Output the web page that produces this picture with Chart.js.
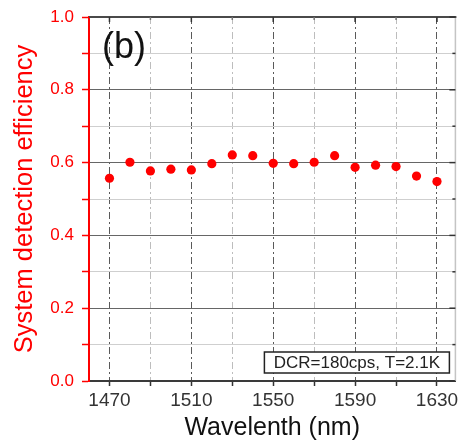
<!DOCTYPE html>
<html>
<head>
<meta charset="utf-8">
<script src="https://cdn.jsdelivr.net/npm/chart.js@4.4.1/dist/chart.umd.min.js"></script>
<style>
  html, body { margin: 0; padding: 0; background: #fff; }
  #wrap { width: 460px; height: 444px; }
</style>
</head>
<body>
<div id="wrap"><canvas id="sde" width="460" height="444"></canvas></div>
<script>
// wavelength (nm) and measured system detection efficiency
var wavelengths = [1470, 1480, 1490, 1500, 1510, 1520, 1530, 1540, 1550, 1560, 1570, 1580, 1590, 1600, 1610, 1620, 1630];
var efficiency  = [0.557, 0.601, 0.577, 0.582, 0.580, 0.597, 0.621, 0.619, 0.598, 0.597, 0.601, 0.619, 0.587, 0.593, 0.589, 0.563, 0.548];

// x grid every 20 nm, labelled every 40 nm
var xGridTicks = [1470, 1490, 1510, 1530, 1550, 1570, 1590, 1610, 1630];
var xTickLabels = ['1470', '1510', '1550', '1590', '1630'];

var panelLabel = '(b)';
var noteText = 'DCR=180cps, T=2.1K';

var FONT = '"Liberation Sans", Arial, sans-serif';

// frame lines, inward ticks on top/right, panel letter and the note box
var decorations = {
  id: 'decorations',
  afterDraw: function(chart) {
    var ctx = chart.ctx;
    var a = chart.chartArea;
    var xs = chart.scales.x, ys = chart.scales.y;
    ctx.save();

    // right frame (light) and top frame (dark)
    ctx.strokeStyle = '#c4c4c4';
    ctx.lineWidth = 1.5;
    ctx.beginPath();
    ctx.moveTo(a.right, a.top);
    ctx.lineTo(a.right, a.bottom);
    ctx.stroke();

    ctx.strokeStyle = '#4a4a4a';
    ctx.lineWidth = 2;
    ctx.beginPath();
    ctx.moveTo(a.left, a.top);
    ctx.lineTo(a.right + 1, a.top);
    ctx.stroke();

    // inward ticks
    ctx.lineWidth = 1.5;
    xs.ticks.forEach(function(t) {
      var px = xs.getPixelForValue(t.value);
      var major = xTickLabels.indexOf(String(t.value)) >= 0;
      ctx.strokeStyle = major ? '#333' : '#777';
      ctx.beginPath();
      ctx.moveTo(px, a.top);
      ctx.lineTo(px, a.top + (major ? 5 : 3));
      ctx.stroke();
    });
    ys.ticks.forEach(function(t) {
      var py = ys.getPixelForValue(t.value);
      var major = Math.round(t.value * 10) % 2 === 0;
      ctx.strokeStyle = '#333';
      ctx.beginPath();
      ctx.moveTo(a.right, py);
      ctx.lineTo(a.right - (major ? 6 : 3), py);
      ctx.stroke();
    });

    // panel letter
    ctx.fillStyle = '#111';
    ctx.font = '36px ' + FONT;
    ctx.textAlign = 'left';
    ctx.textBaseline = 'middle';
    ctx.fillText(panelLabel, a.left + 13, a.top + 31);

    // note box in the lower right corner
    var bx = a.right - 191, by = a.bottom - 29, bw = 185, bh = 21;
    ctx.fillStyle = '#fff';
    ctx.fillRect(bx, by, bw, bh);
    ctx.strokeStyle = '#222';
    ctx.lineWidth = 1.5;
    ctx.strokeRect(bx, by, bw, bh);
    ctx.fillStyle = '#222';
    ctx.font = '17px ' + FONT;
    ctx.textAlign = 'center';
    ctx.fillText(noteText, bx + bw / 2, by + bh / 2 + 1);

    ctx.restore();
  }
};

var ctx = document.getElementById('sde').getContext('2d');
var chart = new Chart(ctx, {
  type: 'scatter',
  data: {
    datasets: [{
      label: 'SDE',
      data: wavelengths.map(function(w, i) { return { x: w, y: efficiency[i] }; }),
      backgroundColor: '#ff0000',
      borderWidth: 0,
      pointRadius: 4.6,
      pointHoverRadius: 4.6,
      showLine: false
    }]
  },
  options: {
    responsive: false,
    animation: false,
    devicePixelRatio: 1,
    layout: { padding: { top: 17, right: 1, left: 0, bottom: 0 } },
    plugins: {
      legend: { display: false },
      tooltip: { enabled: false }
    },
    scales: {
      x: {
        type: 'linear',
        min: 1460,
        max: 1639,
        afterBuildTicks: function(scale) {
          scale.ticks = xGridTicks.map(function(v) { return { value: v }; });
        },
        afterFit: function(scale) {
          scale.height = 63;
          scale.paddingLeft = 0;
          scale.paddingRight = 0;
        },
        ticks: {
          autoSkip: false,
          maxRotation: 0,
          padding: 3,
          color: '#333',
          font: { family: FONT, size: 19 },
          callback: function(v) {
            return xTickLabels.indexOf(String(v)) >= 0 ? String(v) : '';
          }
        },
        grid: {
          color: function(c) {
            return xTickLabels.indexOf(String(c.tick.value)) >= 0 ? '#5a5a5a' : '#bdbdbd';
          },
          lineWidth: 1,
          tickLength: 5,
          tickColor: '#333',
          tickWidth: 1.5
        },
        border: { display: true, color: '#3a3a3a', width: 2, dash: [7, 3, 2, 3] },
        title: {
          display: true,
          text: 'Wavelenth (nm)',
          color: '#111',
          font: { family: FONT, size: 25 },
          padding: { top: 0, bottom: 1 }
        }
      },
      y: {
        min: 0,
        max: 1,
        afterFit: function(scale) {
          scale.width = 89;
          scale.paddingTop = 0;
          scale.paddingBottom = 0;
        },
        ticks: {
          stepSize: 0.1,
          padding: 8,
          color: '#ff0000',
          font: { family: FONT, size: 17 },
          callback: function(v) {
            return Math.round(v * 10) % 2 === 0 ? v.toFixed(1) : '';
          }
        },
        grid: {
          color: function(c) {
            return Math.round(c.tick.value * 10) % 2 === 0 ? '#666666' : '#cfcfcf';
          },
          lineWidth: 1,
          tickLength: 7,
          tickColor: '#ff0000',
          tickWidth: 1.5
        },
        border: { display: true, color: '#ff0000', width: 2 },
        title: {
          display: true,
          text: 'System detection efficiency',
          color: '#ff0000',
          font: { family: FONT, size: 25.5 },
          padding: { top: 10, bottom: 0 }
        }
      }
    }
  },
  plugins: [decorations]
});
</script>
</body>
</html>
